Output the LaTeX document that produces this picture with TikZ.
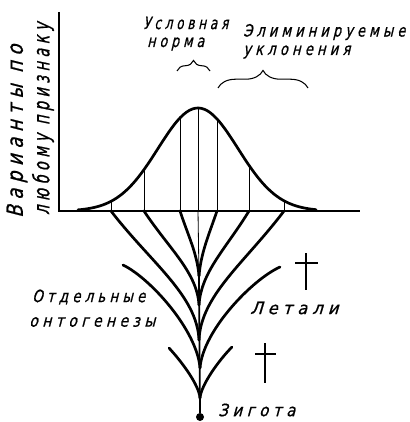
\documentclass[tikz,border=0pt]{standalone}
\usepackage{fontspec}
\usepackage{graphicx}
\newfontfamily\gostfont{DejaVu Sans}[FakeStretch=0.8,FakeSlant=0.25,FakeBold=0.8,LetterSpace=25]
\newlength\pxu
\setlength\pxu{0.03cm}
\newcommand\fitpx[2]{\resizebox{#1\pxu}{\height}{#2}}
\usetikzlibrary{decorations.pathreplacing}
\tikzset{
  thickline/.style={line width=2.3pt,line cap=round},
  thinline/.style={line width=0.7pt},
  crossline/.style={line width=0.9pt},
  lbl/.style={font=\gostfont\fontsize{14.5}{17}\selectfont,inner sep=0pt,anchor=west},
  axlbl/.style={font=\gostfont\fontsize{19}{20}\selectfont,inner sep=0pt,anchor=west,rotate=90},
  bigbrace/.style={decorate,decoration={brace,amplitude=#1},line width=0.9pt}
}
\begin{document}
\begin{tikzpicture}[x=0.03cm,y=-0.03cm]
\useasboundingbox (0,0) rectangle (409,422);
% axes
\coordinate (ytop) at (59,12);
\coordinate (o) at (59,211);
\coordinate (xend) at (360,211);
\draw[line width=1.3pt] (ytop) -- (o) -- (xend);
\node[axlbl] (ylab1) at (17,218) {\fitpx{173}{Варианты по}};
\node[axlbl] (ylab2) at (43,215) {\fitpx{192}{любому признаку}};
% distribution curve
\draw[thickline] plot[domain=78:316,samples=80,smooth] (\x,{211-103*exp(-((\x-198)*(\x-198))/3200)});
\foreach \xv in {111,144,180,198,217,249,284}
  \draw[thinline] (\xv,211) -- (\xv,{211-103*exp(-((\xv-198)*(\xv-198))/3200)});
% junctions on the stem
\coordinate (j1) at (199,276);
\coordinate (j2) at (199,305);
\coordinate (j3) at (199,340);
\coordinate (j4) at (200,368);
\coordinate (j5) at (200,398);
\node[circle,fill,inner sep=0pt,minimum size=0.24cm] (zyg) at (200,417) {};
\draw[thinline] (198,211) -- (j1);
\draw[line width=1.5pt] (j1) -- (zyg);
% individual ontogeneses
\foreach \xs/\ca/\cb/\cc/\j in {180/188.6/237/253/j1,144/168.8/248.6/272/j2,111/150.6/262.6/295/j3}
  \draw[thickline] (\xs,211) .. controls (\ca,\cb) and (197,\cc) .. (\j);
\foreach \xs/\ca/\cb/\cc/\j in {217/208/237/253/j1,249/226/248.6/272/j2,284/245/262.6/295/j3}
  \draw[thickline] (\xs,211) .. controls (\ca,\cb) and (201,\cc) .. (\j);
% lethal branches
\draw[thickline] (123,265) .. controls (150,278) and (197,330) .. (j4);
\draw[thickline] (280,267) .. controls (253,279) and (203,330) .. (j4);
\draw[thickline] (169,348) .. controls (182,362) and (199,385) .. (j5);
\draw[thickline] (232,347) .. controls (219,360) and (201,385) .. (j5);
% crosses
\draw[crossline] (306,253) -- (306,290) (295,263) -- (318,263);
\draw[crossline] (265,343) -- (265,383) (255,354) -- (276,354);
% braces
\draw[bigbrace=9pt] (177,71) -- (210,71);
\draw[bigbrace=15pt] (218,88) -- (308,88);
% labels
\node[lbl] (usl) at (143,23) {\fitpx{85}{Условная}};
\node[lbl] (norm) at (147,44) {\fitpx{57}{норма}};
\node[lbl] (elim) at (243,32) {\fitpx{162}{Элиминируемые}};
\node[lbl] (ukl) at (243,52) {\fitpx{107}{уклонения}};
\node[lbl] (otd) at (32,297) {\fitpx{113}{Отдельные}};
\node[lbl] (ont) at (29,322) {\fitpx{126}{онтогенезы}};
\node[lbl] (let) at (250,308) {\fitpx{88}{Летали}};
\node[lbl] (zlab) at (218,410) {\fitpx{77}{Зигота}};
\end{tikzpicture}
\end{document}
